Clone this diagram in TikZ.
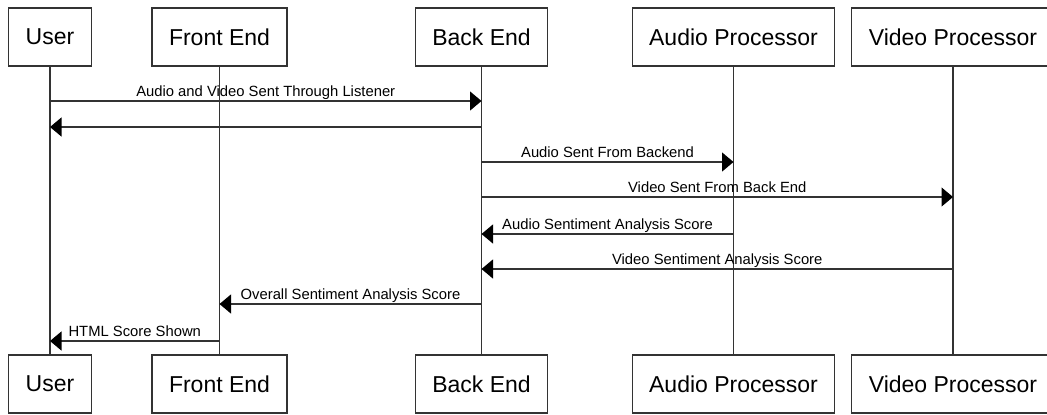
\documentclass[tikz,border=0pt]{standalone}
\usepackage{fontspec}
\setmainfont{Liberation Sans}
\usetikzlibrary{arrows.meta, positioning}
\definecolor{linegrey}{rgb}{0.2, 0.2, 0.2}

\begin{document}
\begin{tikzpicture}[x=0.5pt, y=-0.5pt,
        actor/.style={draw=linegrey, rectangle, fill=white, line width=0.6pt, minimum height=29pt, inner xsep=8.5pt, font=\fontsize{11.5}{13}\selectfont},
        lifeline/.style={draw=linegrey, line width=0.6pt},
        msg/.style={draw=linegrey, line width=0.6pt, -{Triangle[length=5.75pt, width=9.5pt, color=black]}},
        msglabel/.style={font=\fontsize{7.4}{9}\selectfont, above, inner sep=0.5pt, text height=1.5ex, text depth=.25ex}]
    \clip (0,0) rectangle (1047,414);

    % actors on top
    \node[actor] (UserT) at (50,37) {User};
    \node[actor] (FrontT) at (219.5,37) {Front End};
    \node[actor] (BackT) at (481.5,37) {Back End};
    \node[actor] (AudioT) at (733.5,37) {Audio Processor};
    \node[actor] (VideoT) at (953,37) {Video Processor};

    % actors at bottom
    \node[actor] (UserB) at (50,384) {User};
    \node[actor] (FrontB) at (219.5,384) {Front End};
    \node[actor] (BackB) at (481.5,384) {Back End};
    \node[actor] (AudioB) at (733.5,384) {Audio Processor};
    \node[actor] (VideoB) at (953,384) {Video Processor};

    % lifelines
    \draw[lifeline] (UserT) -- (UserB);
    \draw[lifeline] (FrontT) -- (FrontB);
    \draw[lifeline] (BackT) -- (BackB);
    \draw[lifeline] (AudioT) -- (AudioB);
    \draw[lifeline] (VideoT) -- (VideoB);

    % message rows
    \coordinate (R1) at (0,101);
    \coordinate (R2) at (0,127);
    \coordinate (R3) at (0,162);
    \coordinate (R4) at (0,197);
    \coordinate (R5) at (0,234);
    \coordinate (R6) at (0,269);
    \coordinate (R7) at (0,304);
    \coordinate (R8) at (0,341);

    \draw[msg] (UserT |- R1) -- (BackT |- R1) node[msglabel, midway] {Audio and Video Sent Through Listener};
    \draw[msg] (BackT |- R2) -- (UserT |- R2);
    \draw[msg] (BackT |- R3) -- (AudioT |- R3) node[msglabel, midway] {Audio Sent From Backend};
    \draw[msg] (BackT |- R4) -- (VideoT |- R4) node[msglabel, midway] {Video Sent From Back End};
    \draw[msg] (AudioT |- R5) -- (BackT |- R5) node[msglabel, midway] {Audio Sentiment Analysis Score};
    \draw[msg] (VideoT |- R6) -- (BackT |- R6) node[msglabel, midway] {Video Sentiment Analysis Score};
    \draw[msg] (BackT |- R7) -- (FrontT |- R7) node[msglabel, midway] {Overall Sentiment Analysis Score};
    \draw[msg] (FrontT |- R8) -- (UserT |- R8) node[msglabel, midway] {HTML Score Shown};
\end{tikzpicture}
\end{document}
